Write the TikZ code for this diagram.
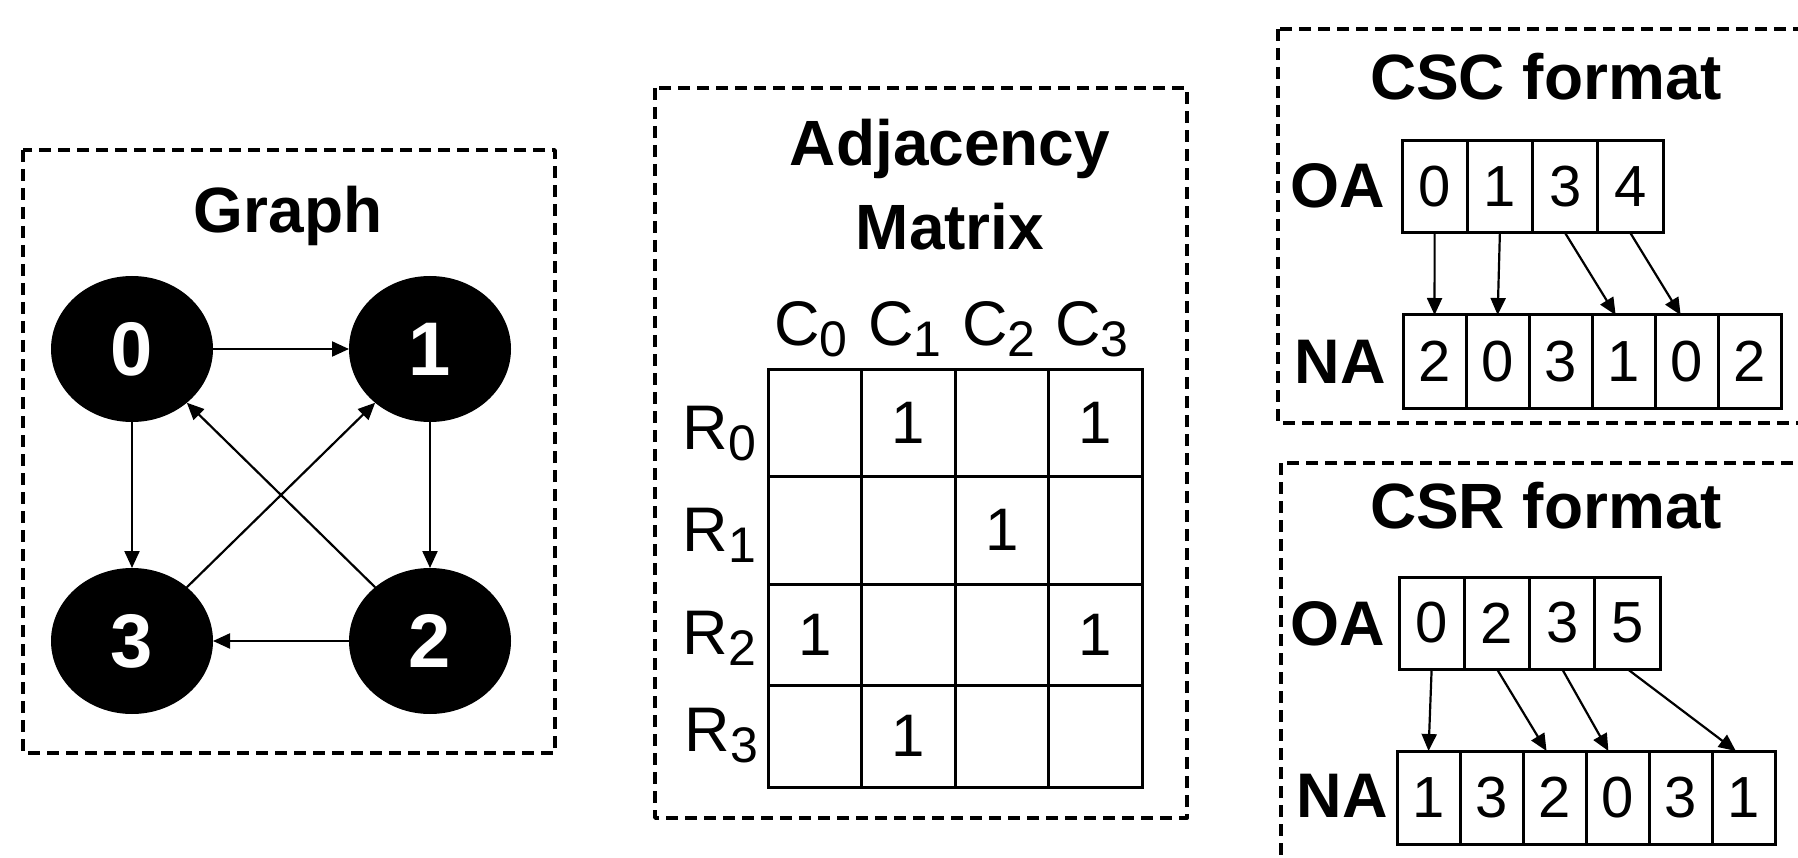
\documentclass[tikz,border=0pt]{standalone}
\usepackage{fontspec}
\setmainfont{Liberation Sans}
\usetikzlibrary{shapes.geometric,arrows.meta,calc}
\newcommand\subd[1]{\raisebox{-11pt}{\fontsize{50}{50}\selectfont #1}}
\begin{document}
\begin{tikzpicture}[x=1pt,y=-1pt,
  dbox/.style={draw,line width=3.8pt,dash pattern=on 12pt off 7pt,line join=round},
  ttl/.style={font=\fontsize{64}{84}\selectfont\bfseries,inner sep=0pt,anchor=base},
  gnode/.style={ellipse,fill=black,minimum width=162pt,minimum height=146pt,inner sep=0pt,outer sep=0pt,text=white,font=\fontsize{76}{76}\selectfont\bfseries},
  garrow/.style={line width=2.2pt,-{Triangle[length=17pt,width=15pt]}},
  parrow/.style={line width=2.2pt,-{Triangle[length=17pt,width=15pt]}},
  lab/.style={font=\fontsize{63}{63}\selectfont,inner sep=0pt},
  arrlab/.style={font=\fontsize{63}{63}\selectfont\bfseries,inner sep=0pt,anchor=base},
  mcell/.style={draw,line width=3pt,inner sep=0pt,outer sep=0pt,minimum width=93.5pt,anchor=north west},
  one/.style={font=\fontsize{60}{60}\selectfont,inner sep=0pt},
  oacell/.style={draw,line width=3pt,inner sep=0pt,outer sep=0pt,minimum width=65.25pt,minimum height=92pt,anchor=north west,font=\fontsize{58}{58}\selectfont},
  nacell/.style={draw,line width=3pt,inner sep=0pt,outer sep=0pt,minimum width=63.1pt,minimum height=93pt,anchor=north west,font=\fontsize{58}{58}\selectfont}
]
\clip (0,0) rectangle (1798,858);
\fill[white] (0,0) rectangle (1798,858);

% ---------- Graph ----------
\draw[dbox] (23,150) rectangle (555,753);
\node[ttl] (tg) at (288,233) {Graph};
\node[gnode] (n0) at (132,349) {0};
\node[gnode] (n1) at (430,349) {1};
\node[gnode] (n3) at (132,641) {3};
\node[gnode] (n2) at (430,641) {2};
\draw[garrow] (n0) -- (n1);
\draw[garrow] (n0) -- (n3);
\draw[garrow] (n1) -- (n2);
\draw[garrow] (n2) -- (n3);
\draw[garrow] (n3) -- (n1);
\draw[garrow] (n2) -- (n0);

% ---------- Adjacency matrix ----------
\draw[dbox] (655,88) rectangle (1187,818);
\node[ttl] (ta1) at (950,166) {Adjacency};
\node[ttl] (ta2) at (950,250) {Matrix};
\foreach \r/\ty/\h in {0/369/107,1/476/108,2/584/101,3/685/102}
  \foreach \c in {0,...,3}
    \node[mcell,minimum height=\h pt] (m\r\c) at ({768+93.5*\c},\ty) {};
\node[one] at (m01) {1};
\node[one] at (m03) {1};
\node[one] at (m12) {1};
\node[one] at (m20) {1};
\node[one] at (m23) {1};
\node[one] at (m31) {1};
\node[lab,anchor=base] (c0) at (811,345) {C\subd{0}};
\node[lab,anchor=base] (c1) at (905,345) {C\subd{1}};
\node[lab,anchor=base] (c2) at (999,345) {C\subd{2}};
\node[lab,anchor=base] (c3) at (1092,345) {C\subd{3}};
\node[lab,anchor=base east] (r0) at (756,449) {R\subd{0}};
\node[lab,anchor=base east] (r1) at (756,551) {R\subd{1}};
\node[lab,anchor=base east] (r2) at (756,654) {R\subd{2}};
\node[lab,anchor=base east] (r3) at (758,751) {R\subd{3}};

% ---------- CSC ----------
\draw[dbox] (1278,29) rectangle (1860,423);
\node[ttl] (tcsc) at (1546,100) {CSC format};
\node[arrlab] (oal1) at (1338,208) {OA};
\node[arrlab] (nal1) at (1340,383) {NA};
\node[oacell] (a0) at (1402,141) {0};
\node[oacell] (a1) at (a0.north east) {1};
\node[oacell] (a2) at (a1.north east) {3};
\node[oacell] (a3) at (a2.north east) {4};
\node[nacell] (b0) at (1403,315) {2};
\node[nacell] (b1) at (b0.north east) {0};
\node[nacell] (b2) at (b1.north east) {3};
\node[nacell] (b3) at (b2.north east) {1};
\node[nacell] (b4) at (b3.north east) {0};
\node[nacell] (b5) at (b4.north east) {2};
\draw[parrow] (a0.south) -- (b0.north);
\draw[parrow] (a1.south) -- (b1.north);
\draw[parrow] (a2.south) -- ($(b3.north west)!0.37!(b3.north east)$);
\draw[parrow] (a3.south) -- ($(b4.north west)!0.4!(b4.north east)$);

% ---------- CSR ----------
\draw[dbox] (1281,463) rectangle (1860,900);
\node[ttl] (tcsr) at (1546,528) {CSR format};
\node[arrlab] (oal2) at (1338,645) {OA};
\node[arrlab] (nal2) at (1342,817) {NA};
\node[oacell] (p0) at (1399,577) {0};
\node[oacell] (p1) at (p0.north east) {2};
\node[oacell] (p2) at (p1.north east) {3};
\node[oacell] (p3) at (p2.north east) {5};
\node[nacell] (q0) at (1397,751) {1};
\node[nacell] (q1) at (q0.north east) {3};
\node[nacell] (q2) at (q1.north east) {2};
\node[nacell] (q3) at (q2.north east) {0};
\node[nacell] (q4) at (q3.north east) {3};
\node[nacell] (q5) at (q4.north east) {1};
\draw[parrow] (p0.south) -- (q0.north);
\draw[parrow] (p1.south) -- ($(q2.north west)!0.37!(q2.north east)$);
\draw[parrow] (p2.south) -- ($(q3.north west)!0.35!(q3.north east)$);
\draw[parrow] (p3.south) -- ($(q5.north west)!0.37!(q5.north east)$);
\end{tikzpicture}
\end{document}
